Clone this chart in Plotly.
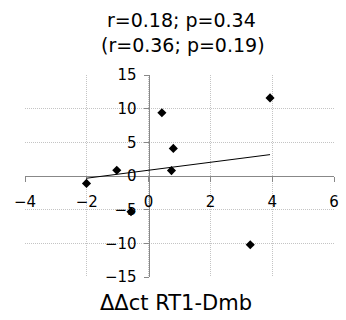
import numpy as np
import plotly.graph_objects as go

# Data
x_vals = [3.93, 0.43, 0.80, 0.74, -1.03, -2.01, -0.57, 3.29]
y_vals = [11.6, 9.4, 4.1, 0.8, 0.85, -1.1, -5.3, -10.2]

title_lines = ["r=0.18; p=0.34", "(r=0.36; p=0.19)"]
x_title = "ΔΔct RT1-Dmb"
x_ticks = [-4, -2, 0, 2, 4, 6]
y_ticks = [-15, -10, -5, 0, 5, 10, 15]

# Linear trend line fitted from the data
slope, intercept = np.polyfit(x_vals, y_vals, 1)
trend_x = [min(x_vals), max(x_vals)]
trend_y = [slope * v + intercept for v in trend_x]

FONT = "DejaVu Sans"

fig = go.Figure()
fig.add_trace(go.Scatter(x=trend_x, y=trend_y, mode="lines",
                         line=dict(color="black", width=1), showlegend=False))
fig.add_trace(go.Scatter(x=x_vals, y=y_vals, mode="markers",
                         marker=dict(symbol="diamond", size=7, color="black"),
                         showlegend=False))

axis_common = dict(showline=True, linecolor="#888888", linewidth=1,
                   ticks="outside", ticklen=5, tickcolor="#888888",
                   showgrid=True, gridcolor="#c4c4c4", griddash="1px,1px", gridwidth=1,
                   zeroline=False, tickfont=dict(size=15, family=FONT, color="black"),
                   layer="below traces", fixedrange=True)

fig.update_layout(
    width=346, height=320,
    margin=dict(l=25, r=7, t=75, b=43),
    paper_bgcolor="white", plot_bgcolor="white",
    font=dict(family=FONT, color="black"),
    xaxis=dict(range=[-4, 6], tickvals=x_ticks, anchor="free", position=0.5,
               ticklabelstandoff=7, **axis_common),
    yaxis=dict(range=[-15, 15], tickvals=y_ticks, anchor="free", position=0.4,
               ticklabelstandoff=4, **axis_common),
    annotations=[
        dict(text=title_lines[0], xref="paper", yref="paper", x=0.505, y=1.272,
             xanchor="center", yanchor="middle", showarrow=False,
             font=dict(size=19, family=FONT, color="black")),
        dict(text=title_lines[1], xref="paper", yref="paper", x=0.51, y=1.149,
             xanchor="center", yanchor="middle", showarrow=False,
             font=dict(size=19, family=FONT, color="black")),
        dict(text=x_title, xref="paper", yref="paper", x=0.49, y=-0.13,
             xanchor="center", yanchor="middle", showarrow=False,
             font=dict(size=21, family=FONT, color="black")),
    ],
)

fig.write_html("out.html")
